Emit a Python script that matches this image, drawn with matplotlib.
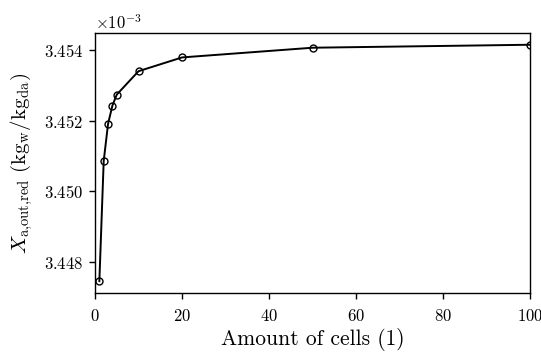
import matplotlib
matplotlib.use("Agg")
import matplotlib.pyplot as plt

plt.rcParams['font.family'] = 'serif'
plt.rcParams['font.serif'] = ['cmr10']
plt.rcParams['mathtext.fontset'] = 'cm'
plt.rcParams['axes.formatter.use_mathtext'] = True
plt.rcParams['axes.unicode_minus'] = False

cells = [1, 2, 3, 4, 5, 10, 20, 50, 100]
x_out_red = [3.447464e-3, 3.450858e-3, 3.451907e-3, 3.452423e-3, 3.452733e-3,
             3.453394e-3, 3.453783e-3, 3.454057e-3, 3.454141e-3]
x_ticks = [0, 20, 40, 60, 80, 100]
y_ticks = [3.448e-3, 3.450e-3, 3.452e-3, 3.454e-3]

fig = plt.figure(figsize=(5.41, 3.54), dpi=100)
ax = fig.add_axes([0.1756, 0.1723, 0.8044, 0.7347])
ax.plot(cells, x_out_red, color='black', linewidth=1.4, marker='o',
        markersize=5, markerfacecolor='none', markeredgecolor='black', markeredgewidth=1.0)
ax.set_xlim(0, 100)
ax.set_xticks(x_ticks)
ax.set_yticks(y_ticks)
ax.ticklabel_format(axis='y', style='sci', scilimits=(-3, -3), useOffset=False)
ax.tick_params(labelsize=12, width=1.0, length=4.5)
ax.tick_params(axis='x', pad=6.5)
ax.tick_params(axis='y', pad=4)
for s in ax.spines.values():
    s.set_linewidth(1.0)
ax.yaxis.get_offset_text().set_fontsize(12)
ax.set_xlabel('Amount of cells (1)', fontsize=15.5, labelpad=3)
ax.set_ylabel(r'$X_{\mathrm{a{,}out{,}red}}\ (\mathrm{kg_{w}/kg_{da}})$', fontsize=15, labelpad=6)
fig.savefig('out.png', dpi=100)
